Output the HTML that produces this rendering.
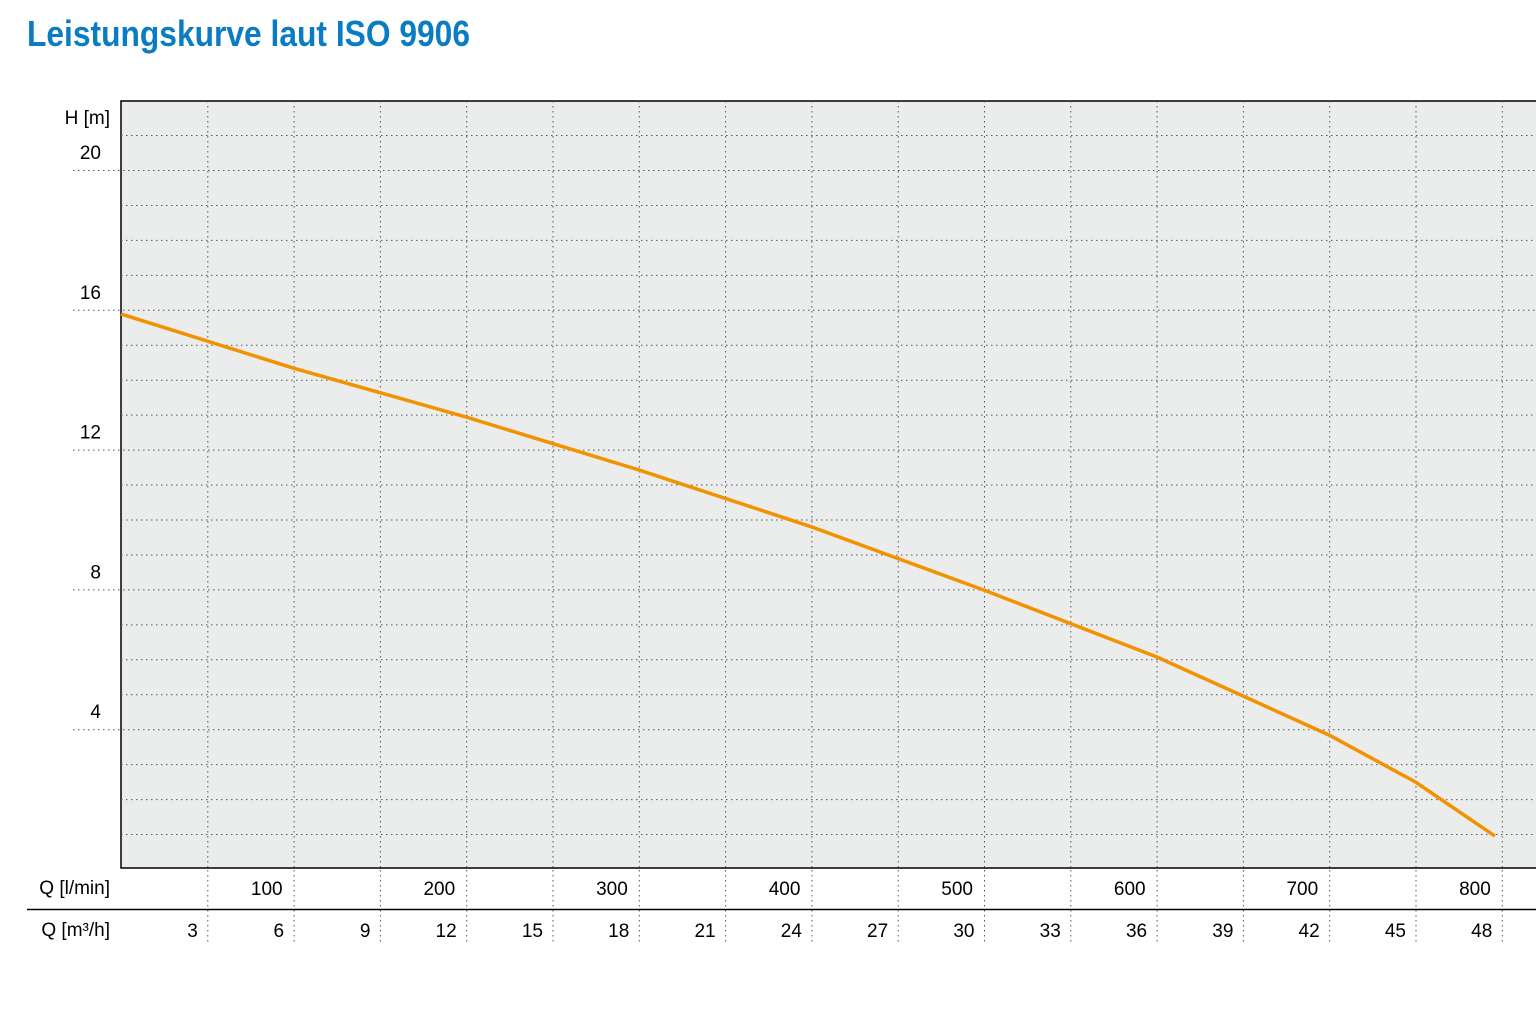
<!DOCTYPE html>
<html><head><meta charset="utf-8"><style>
body{margin:0;background:#fff;width:1536px;height:1004px;overflow:hidden}
svg text{font-family:"Liberation Sans Narrow","Liberation Sans",sans-serif}
</style></head><body>
<svg id="c" width="1536" height="1004">
<text x="27" y="46" font-size="36" font-weight="bold" fill="#0a7cc4" textLength="443" lengthAdjust="spacingAndGlyphs">Leistungskurve laut ISO 9906</text>
<rect x="121" y="101" width="1420" height="767" fill="#ebecec" stroke="#000" stroke-width="1.5"/>
<g id="grid"></g>
<g id="labels"></g>
<line x1="27" y1="909.5" x2="1536" y2="909.5" stroke="#000" stroke-width="1.5"/>
<text x="110" y="124" font-size="19" text-anchor="end">H [m]</text>
<text x="110" y="894" font-size="19" text-anchor="end">Q [l/min]</text>
<text x="110" y="936" font-size="19" text-anchor="end">Q [m³/h]</text>
<path id="curve" fill="none" stroke="#f39200" stroke-width="3.5"/>
</svg>
<script>
const flowLmin=[0,100,200,300,400,500,600,700,750,796];
const headM=[15.88,14.33,12.93,11.42,9.79,7.98,6.07,3.83,2.49,0.94];
const xTicksLmin=[100,200,300,400,500,600,700,800];
const xTicksM3h=[3,6,9,12,15,18,21,24,27,30,33,36,39,42,45,48];
const yTicks=[4,8,12,16,20];
const X0=121,PX_PER_L=86.3/50,Y0=869,PX_PER_M=34.95;
const xs=q=>X0+q*PX_PER_L, ys=h=>Y0-h*PX_PER_M;
const NS="http://www.w3.org/2000/svg";
const grid=document.getElementById('grid'),lab=document.getElementById('labels');
function ln(x1,y1,x2,y2,name){const l=document.createElementNS(NS,'line');
l.setAttribute('x1',x1);l.setAttribute('y1',y1);l.setAttribute('x2',x2);l.setAttribute('y2',y2);
l.setAttribute('stroke','#555');l.setAttribute('stroke-width','1');l.setAttribute('stroke-dasharray','1.5 3.5');


grid.appendChild(l);}
function tx(x,y,s,name){const t=document.createElementNS(NS,'text');
t.setAttribute('x',x);t.setAttribute('y',y);t.setAttribute('font-size','19');t.setAttribute('text-anchor','end');t.textContent=s;


lab.appendChild(t);}
for(let h=1;h<=21;h++){const y=ys(h)+0.5;const major=yTicks.includes(h);ln(major?73:121,y,1536,y,'h-gridline');}
yTicks.forEach(h=>tx(101,ys(h)-11,String(h),'y-tick-label'));
xTicksM3h.forEach(m=>{const x=xs(m*50/3)+0.5;ln(x,101,x,868,'v-gridline');ln(x,870,x,942,'x-tick');tx(x-10,937,String(m),'x-tick-label-m3h');});
xTicksLmin.forEach(q=>tx(xs(q)-11,895,String(q),'x-tick-label-lmin'));
let d='';flowLmin.forEach((q,i)=>{d+=(i?' L':'M')+xs(q).toFixed(1)+' '+ys(headM[i]).toFixed(1);});
document.getElementById('curve').setAttribute('d',d);
</script>
</body></html>
